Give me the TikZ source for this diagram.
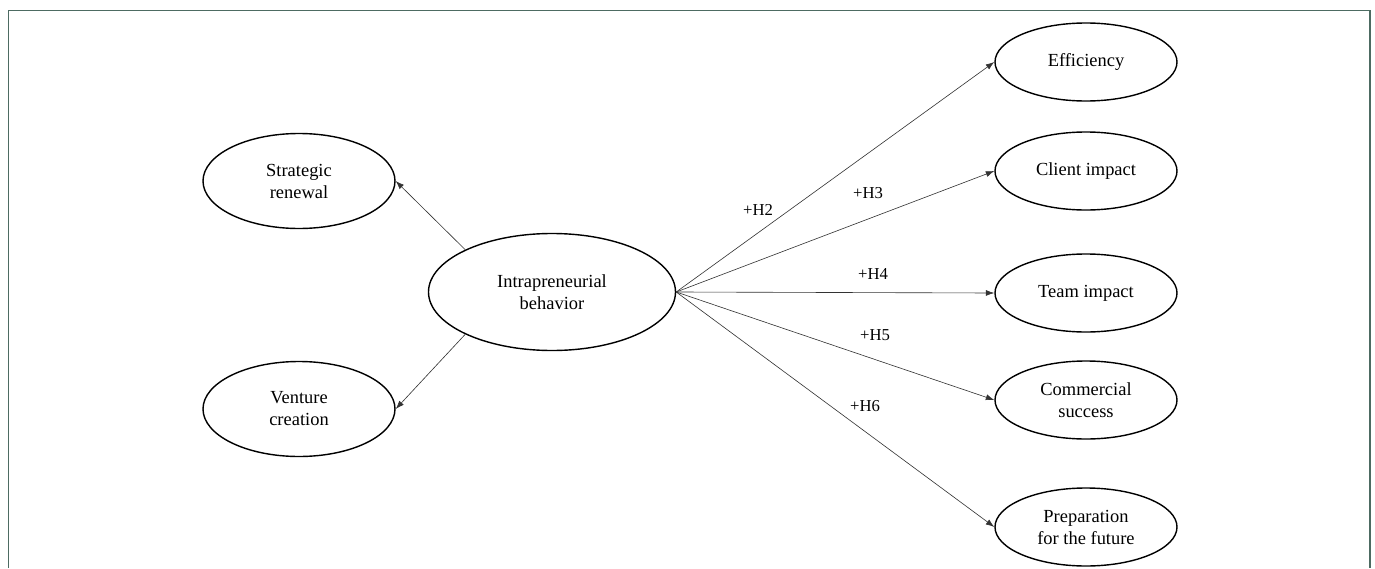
\documentclass[tikz,border=0pt]{standalone}
\usepackage{fontspec}
\setmainfont{Liberation Serif}
\usetikzlibrary{arrows.meta,shapes.geometric}
\definecolor{frameline}{HTML}{4D6B62}
\definecolor{pathline}{HTML}{333333}

\begin{document}
\begin{tikzpicture}[>={Latex[length=1.7mm,width=1.2mm]},
    latent/.style={ellipse,draw,line width=0.8pt,inner sep=0pt,align=center,
      font=\fontsize{10.5}{12.5}\selectfont},
    path/.style={->,draw=pathline,line width=0.35pt},
    hyp/.style={font=\fontsize{9.5}{11}\selectfont}]
    \useasboundingbox (0,0) rectangle (27.5,11.36);
    \draw[frameline,line width=1.1pt] (0.17,0) |- (27.4,11.15) -- (27.4,0);
    % central construct and its dimensions
    \node[latent,minimum width=4.94cm,minimum height=2.34cm] (ib) at (11.04,5.52) {Intrapreneurial\\behavior};
    \node[latent,minimum width=3.84cm,minimum height=1.9cm] (sr) at (5.98,7.74) {Strategic\\renewal};
    \node[latent,minimum width=3.84cm,minimum height=1.9cm] (vc) at (5.98,3.18) {Venture\\creation};
    \draw[path] (ib.154) -- (sr.east);
    \draw[path] (ib.206) -- (vc.east);
    % outcomes
    \foreach \n/\y/\lab in {eff/10.12/Efficiency,ci/7.94/Client impact,ti/5.5/Team impact,
        cs/3.36/{Commercial\\success},pf/0.82/{Preparation\\for the future}}{
      \node[latent,minimum width=3.64cm,minimum height=1.56cm] (\n) at (21.72,\y) {\lab};
      \draw[path] (ib.east) -- (\n.west);}
    \node[hyp] (h2) at (15.16,7.16) {+H2};
    \node[hyp] (h3) at (17.36,7.5) {+H3};
    \node[hyp] (h4) at (17.46,5.88) {+H4};
    \node[hyp] (h5) at (17.5,4.66) {+H5};
    \node[hyp] (h6) at (17.3,3.24) {+H6};
  \end{tikzpicture}
\end{document}
